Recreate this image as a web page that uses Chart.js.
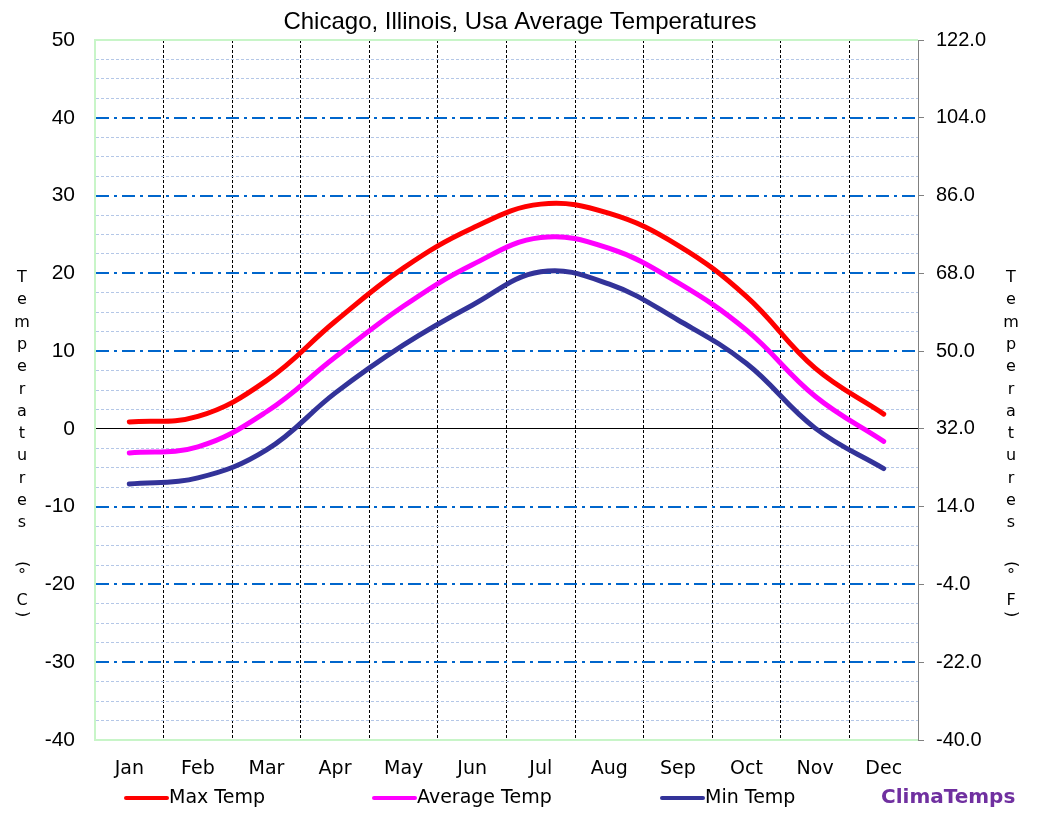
<!DOCTYPE html>
<html><head><meta charset="utf-8">
<script src="https://cdn.jsdelivr.net/npm/chart.js@4/dist/chart.umd.min.js"></script>
<style>html,body{margin:0;padding:0;background:#fff}#wrap{width:1037px;height:821px}</style>
</head><body><div id="wrap"><canvas id="c" width="1037" height="821"></canvas></div>
<script>
const titleText = 'Chicago, Illinois, Usa Average Temperatures';
const months = ['Jan','Feb','Mar','Apr','May','Jun','Jul','Aug','Sep','Oct','Nov','Dec'];
const maxTemp = [0.9, 1.6, 6.2, 13.8, 20.7, 25.8, 28.9, 27.7, 23.6, 17.0, 7.8, 1.9];
const avgTemp = [-3.1, -2.3, 2.2, 9.2, 15.8, 21.1, 24.6, 23.2, 18.8, 12.7, 4.2, -1.6];
const minTemp = [-7.1, -6.3, -2.7, 4.6, 10.8, 15.9, 20.2, 18.6, 14.0, 8.4, 0.1, -5.1];
const seriesLabels = ['Max Temp', 'Average Temp', 'Min Temp'];
const celsiusRange = [-40, 50];
const fahrenheitRange = [-40, 122];
const leftTitleChars = ['T','e','m','p','e','r','a','t','u','r','e','s','','(','°','C',')'];
const rightTitleChars = ['T','e','m','p','e','r','a','t','u','r','e','s','','(','°','F',')'];
const brandText = 'ClimaTemps';

const GREEN = '#c8f5c8';
const overlay = {
  id: 'overlay',
  beforeDatasetsDraw(chart) {
    const {ctx, chartArea: a} = chart;
    ctx.save();
    ctx.strokeStyle = GREEN; ctx.lineWidth = 2;
    ctx.beginPath(); ctx.moveTo(a.left, a.top); ctx.lineTo(a.right, a.top); ctx.stroke();
    ctx.restore();
  },
  afterDraw(chart) {
    const {ctx} = chart;
    ctx.save();
    ctx.fillStyle = '#000';
    ctx.textAlign = 'center'; ctx.textBaseline = 'middle';
    ctx.font = '24px "Liberation Sans", Arial, sans-serif';
    ctx.fillText(titleText, 520, 22);
    const ys = [278,300,323,345,367,390,412,434,456,479,501,523,545,564,576,601,614];
    const drawCol = (chars, x) => chars.forEach((ch, i) => {
      if (!ch) return;
      ctx.font = '16px "DejaVu Sans", sans-serif';
      if (ch === '(' || ch === ')') {
        ctx.save(); ctx.translate(x, ys[i]); ctx.rotate(Math.PI / 2);
        ctx.fillText(ch, 0, 0); ctx.restore();
      } else {
        ctx.fillText(ch, x, ys[i]);
      }
    });
    drawCol(leftTitleChars, 22);
    drawCol(rightTitleChars, 1011);
    // legend
    const items = chart.data.datasets.map(d => ({label: d.label, color: d.borderColor}));
    const xs = [126, 374, 662];
    ctx.font = '19px "DejaVu Sans", sans-serif';
    ctx.textAlign = 'left';
    items.forEach((it, i) => {
      ctx.strokeStyle = it.color; ctx.lineWidth = 4; ctx.lineCap = 'round';
      ctx.beginPath(); ctx.moveTo(xs[i], 798); ctx.lineTo(xs[i] + 41, 798); ctx.stroke();
      ctx.fillStyle = '#000';
      ctx.fillText(it.label, xs[i] + 43, 798);
    });
    ctx.font = 'bold 20px "DejaVu Sans", sans-serif';
    ctx.fillStyle = '#7030a0';
    ctx.fillText(brandText, 881, 798);
    ctx.restore();
  }
};

new Chart(document.getElementById('c'), {
  type: 'line',
  data: {
    labels: months,
    datasets: [
      {label: seriesLabels[0], data: maxTemp, borderColor: '#ff0000', backgroundColor: '#ff0000'},
      {label: seriesLabels[1], data: avgTemp, borderColor: '#ff00ff', backgroundColor: '#ff00ff'},
      {label: seriesLabels[2], data: minTemp, borderColor: '#333399', backgroundColor: '#333399'}
    ].map(d => Object.assign(d, {borderWidth: 5, pointRadius: 0, tension: 0.4, fill: false, borderCapStyle: 'round', yAxisID: 'y'}))
  },
  options: {
    responsive: false, animation: false, devicePixelRatio: 1,
    layout: {padding: {top: 40, left: 0, right: 0, bottom: 0}},
    plugins: {legend: {display: false}, title: {display: false}, tooltip: {enabled: false}},
    scales: {
      x: {
        offset: true,
        afterFit: s => { s.height = 81; },
        grid: {
          offset: true, drawTicks: false, lineWidth: 1,
          color: c => (c.index === 0 || c.index === 12) ? 'rgba(0,0,0,0)' : '#000'
        },
        border: {color: GREEN, width: 2, dash: c => c.type === 'tick' ? [3, 2] : []},
        ticks: {color: '#000', padding: 18, font: {family: '"DejaVu Sans", sans-serif', size: 19}}
      },
      y: {
        position: 'left', min: celsiusRange[0], max: celsiusRange[1],
        afterFit: s => { s.width = 95; },
        grid: {
          drawTicks: false,
          color: c => { const v = c.tick ? c.tick.value : null; if (v === 0) return '#000'; if (v !== null && v % 10 === 0) return '#0066cc'; return '#b4c7e7'; },
          lineWidth: c => { const v = c.tick ? c.tick.value : null; if (v === 0) return 1; if (v !== null && v % 10 === 0) return 2; return 1; }
        },
        border: {color: GREEN, width: 2, dash: c => { if (c.type !== 'tick') return []; const v = c.tick.value; if (v === 0) return []; if (v % 10 === 0) return [13, 5, 3, 5]; return [3, 2]; }},
        ticks: {stepSize: 2.5, autoSkip: false, color: '#000', padding: 20,
          font: {family: '"Liberation Sans", Arial, sans-serif', size: 21},
          callback: v => (v % 10 === 0 ? String(v) : '')}
      },
      y2: {
        position: 'right', min: fahrenheitRange[0], max: fahrenheitRange[1],
        afterFit: s => { s.width = 119; },
        grid: {drawOnChartArea: false, drawTicks: true, tickLength: 6, tickColor: '#808080'},
        border: {color: '#808080', width: 1},
        ticks: {stepSize: 18, autoSkip: false, color: '#000', padding: 12,
          font: {family: '"Liberation Sans", Arial, sans-serif', size: 20},
          callback: v => Number(v).toFixed(1)}
      }
    }
  },
  plugins: [overlay]
});
</script></body></html>
